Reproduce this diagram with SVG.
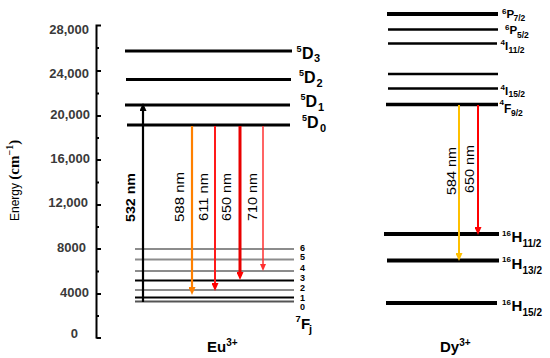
<svg xmlns="http://www.w3.org/2000/svg" width="550" height="358" viewBox="0 0 550 358">
<style>
.tick{font-family:"Liberation Sans",Arial,sans-serif;font-size:13px;font-weight:bold;fill:#3a3a3a;text-anchor:end}
.lab{font-family:"Liberation Sans",Arial,sans-serif;font-weight:bold;fill:#000}
.nm{font-family:"Liberation Sans",Arial,sans-serif;font-size:12px;fill:#000}
.lv{stroke:#000;stroke-width:3;fill:none}
.lvg{stroke:#8c8c8c;stroke-width:1.8;fill:none}
.ax{stroke:#000;stroke-width:2;fill:none}
</style>
<defs>
<marker id="ah-k" viewBox="0 0 8 7" refX="4" refY="3.5" markerWidth="8" markerHeight="7" markerUnits="userSpaceOnUse" orient="auto"><path d="M0,0 L8,3.5 L0,7 z" fill="#000"/></marker>
<marker id="ah-o" viewBox="0 0 8 7" refX="4" refY="3.5" markerWidth="8" markerHeight="7" markerUnits="userSpaceOnUse" orient="auto"><path d="M0,0 L8,3.5 L0,7 z" fill="#ff8000"/></marker>
<marker id="ah-r" viewBox="0 0 8 7" refX="4" refY="3.5" markerWidth="8" markerHeight="7" markerUnits="userSpaceOnUse" orient="auto"><path d="M0,0 L8,3.5 L0,7 z" fill="#f00"/></marker>
<marker id="ah-lr" viewBox="0 0 8 7" refX="4" refY="3.5" markerWidth="7" markerHeight="6" markerUnits="userSpaceOnUse" orient="auto"><path d="M0,0 L8,3.5 L0,7 z" fill="#ff3030"/></marker>
<marker id="ah-y" viewBox="0 0 8 7" refX="4" refY="3.5" markerWidth="8" markerHeight="7" markerUnits="userSpaceOnUse" orient="auto"><path d="M0,0 L8,3.5 L0,7 z" fill="#ffc000"/></marker>
</defs>
<rect width="550" height="358" fill="#fff"/>

<g id="axis">
<path class="ax" d="M96.5,24.5 V338.5 M96.5,25.5 H101 M96.5,71 H101 M96.5,116 H101 M96.5,160 H101 M96.5,205 H101 M96.5,249 H101 M96.5,294 H101 M96.5,338 H101 M96.5,48 H99 M96.5,93.5 H99 M96.5,138 H99 M96.5,182.5 H99 M96.5,227 H99 M96.5,271.5 H99 M96.5,316 H99"/>
<text class="tick" x="89" y="34">28,000</text>
<text class="tick" x="89" y="78">24,000</text>
<text class="tick" x="90" y="119">20,000</text>
<text class="tick" x="90" y="163">16,000</text>
<text class="tick" x="88" y="207">12,000</text>
<text class="tick" x="86" y="252">8000</text>
<text class="tick" x="89" y="297">4000</text>
<text class="tick" x="78" y="338">0</text>
<text transform="translate(18.5,221) rotate(-90)" font-family="'Liberation Sans',Arial,sans-serif" font-size="12" fill="#000">Energy <tspan font-family="'Liberation Serif','Times New Roman',serif" font-weight="bold" font-size="15">(cm</tspan><tspan font-family="'Liberation Serif','Times New Roman',serif" font-weight="bold" font-size="10" dy="-6">−1</tspan><tspan font-family="'Liberation Serif','Times New Roman',serif" font-weight="bold" font-size="15" dy="6">)</tspan></text>
</g>

<g id="eu-5D3"><line class="lv" x1="125" y1="51" x2="292" y2="51"/><text class="lab"><tspan x="296.5" y="52" font-size="9">5</tspan><tspan x="302" y="59" font-size="16">D</tspan><tspan x="314" y="62" font-size="11">3</tspan></text></g>
<g id="eu-5D2"><line class="lv" x1="126" y1="79.5" x2="291" y2="79.5"/><text class="lab"><tspan x="299" y="76" font-size="9">5</tspan><tspan x="304" y="83" font-size="16">D</tspan><tspan x="316.5" y="87" font-size="11">2</tspan></text></g>
<g id="eu-5D1"><line class="lv" x1="125" y1="105" x2="290" y2="105"/><text class="lab"><tspan x="300.5" y="100" font-size="9">5</tspan><tspan x="305.5" y="107" font-size="16">D</tspan><tspan x="318" y="111" font-size="11">1</tspan></text></g>
<g id="eu-5D0"><line class="lv" x1="127" y1="125" x2="290" y2="125"/><text class="lab"><tspan x="302" y="121" font-size="9">5</tspan><tspan x="307" y="128" font-size="16">D</tspan><tspan x="320" y="132" font-size="11">0</tspan></text></g>

<g id="eu-7Fj">
<line class="lvg" x1="135" y1="249" x2="294" y2="249"/>
<line class="lvg" x1="135" y1="259.5" x2="294" y2="259.5"/>
<line class="lvg" x1="135" y1="271" x2="294" y2="271"/>
<line class="lv" x1="135" y1="280.5" x2="294" y2="280.5" style="stroke-width:2"/>
<line class="lvg" x1="135" y1="290" x2="294" y2="290"/>
<line class="lv" x1="135" y1="297.5" x2="294" y2="297.5" style="stroke-width:2.2"/>
<line class="lvg" x1="135" y1="301.5" x2="294" y2="301.5" style="stroke:#555"/>
<g class="lab" font-size="9">
<text x="300" y="250.5">6</text>
<text x="300" y="260">5</text>
<text x="300" y="270.5">4</text>
<text x="300" y="281">3</text>
<text x="300" y="291">2</text>
<text x="300" y="300.5">1</text>
<text x="300" y="310">0</text>
</g>
<text class="lab"><tspan x="295.5" y="322" font-size="9.5">7</tspan><tspan x="301" y="329" font-size="15">F</tspan><tspan x="309" y="333" font-size="11">j</tspan></text>
</g>

<g id="eu-title"><text class="lab" x="207" y="352" font-size="15">Eu<tspan font-size="10" dy="-6">3+</tspan></text></g>

<g id="dy-6P72"><line class="lv" x1="387" y1="14" x2="498" y2="14" style="stroke-width:4"/><text class="lab"><tspan x="502" y="14" font-size="8">6</tspan><tspan x="506.5" y="18" font-size="11.5">P</tspan><tspan x="513.5" y="21" font-size="8.5">7/2</tspan></text></g>
<g id="dy-6P52"><line class="lv" x1="388" y1="29.5" x2="498" y2="29.5" style="stroke-width:2.5"/><text class="lab"><tspan x="505" y="30" font-size="8">6</tspan><tspan x="509.5" y="34" font-size="11.5">P</tspan><tspan x="517" y="37.5" font-size="8.5">5/2</tspan></text></g>
<g id="dy-4I112"><line class="lv" x1="388" y1="43.5" x2="497" y2="43.5" style="stroke-width:2.5"/><text class="lab"><tspan x="500.5" y="44.5" font-size="8">4</tspan><tspan x="505" y="50" font-size="11.5">I</tspan><tspan x="508.5" y="53" font-size="8.5">11/2</tspan></text></g>
<g id="dy-level4"><line class="lv" x1="388" y1="74" x2="498" y2="74" style="stroke-width:2.5"/></g>
<g id="dy-4I152"><line class="lv" x1="388" y1="88.5" x2="498" y2="88.5" style="stroke-width:2.5"/><text class="lab"><tspan x="500.5" y="90" font-size="8">4</tspan><tspan x="505" y="95" font-size="11.5">I</tspan><tspan x="508.5" y="97" font-size="8.5">15/2</tspan></text></g>
<g id="dy-4F92"><line class="lv" x1="386" y1="104.5" x2="498" y2="104.5" style="stroke-width:3.5"/><text class="lab"><tspan x="499.5" y="104.5" font-size="8">4</tspan><tspan x="504" y="112.5" font-size="12">F</tspan><tspan x="511" y="115.5" font-size="8.5">9/2</tspan></text></g>
<g id="dy-16H112"><line class="lv" x1="384" y1="234" x2="499" y2="234" style="stroke-width:4"/><text class="lab"><tspan x="502" y="236" font-size="8">16</tspan><tspan x="511.5" y="242" font-size="15">H</tspan><tspan x="522.5" y="246.5" font-size="10">11/2</tspan></text></g>
<g id="dy-16H132"><line class="lv" x1="387" y1="260.5" x2="499" y2="260.5" style="stroke-width:4"/><text class="lab"><tspan x="502" y="262" font-size="8">16</tspan><tspan x="511.5" y="268.5" font-size="15">H</tspan><tspan x="522.5" y="274" font-size="10">13/2</tspan></text></g>
<g id="dy-16H152"><line class="lv" x1="386" y1="303" x2="497" y2="303" style="stroke-width:4"/><text class="lab"><tspan x="502" y="305" font-size="8">16</tspan><tspan x="511.5" y="311" font-size="15">H</tspan><tspan x="522.5" y="315.5" font-size="10">15/2</tspan></text></g>

<g id="dy-title"><text class="lab" x="440" y="352" font-size="15">Dy<tspan font-size="10" dy="-6">3+</tspan></text></g>

<g id="connectors">
<line x1="143" y1="302" x2="143" y2="107" stroke="#000" stroke-width="2.2" marker-end="url(#ah-k)"/>
<line x1="192" y1="126" x2="192" y2="291" stroke="#ff8000" stroke-width="2.2" marker-end="url(#ah-o)"/>
<line x1="215" y1="126" x2="215" y2="287" stroke="#ff1a1a" stroke-width="2" marker-end="url(#ah-r)"/>
<line x1="240" y1="126" x2="240" y2="276" stroke="#e80000" stroke-width="3" marker-end="url(#ah-r)"/>
<line x1="263" y1="126" x2="263" y2="267.5" stroke="#ff3030" stroke-width="1.5" marker-end="url(#ah-lr)"/>
<line x1="459" y1="105" x2="459" y2="257" stroke="#ffc000" stroke-width="2" marker-end="url(#ah-y)"/>
<line x1="478" y1="105" x2="478" y2="231" stroke="#f00" stroke-width="2" marker-end="url(#ah-r)"/>
<text class="nm" font-weight="bold" transform="translate(135,222) rotate(-90)" textLength="49" lengthAdjust="spacingAndGlyphs">532 nm</text>
<text class="nm" transform="translate(183.5,222) rotate(-90)" textLength="50" lengthAdjust="spacingAndGlyphs">588 nm</text>
<text class="nm" transform="translate(208,221) rotate(-90)" textLength="48" lengthAdjust="spacingAndGlyphs">611 nm</text>
<text class="nm" transform="translate(231,221) rotate(-90)" textLength="48" lengthAdjust="spacingAndGlyphs">650 nm</text>
<text class="nm" transform="translate(257,221) rotate(-90)" textLength="48" lengthAdjust="spacingAndGlyphs">710 nm</text>
<text class="nm" transform="translate(456,195) rotate(-90)" textLength="48" lengthAdjust="spacingAndGlyphs">584 nm</text>
<text class="nm" transform="translate(474,193) rotate(-90)" textLength="48" lengthAdjust="spacingAndGlyphs">650 nm</text>
</g>
</svg>
